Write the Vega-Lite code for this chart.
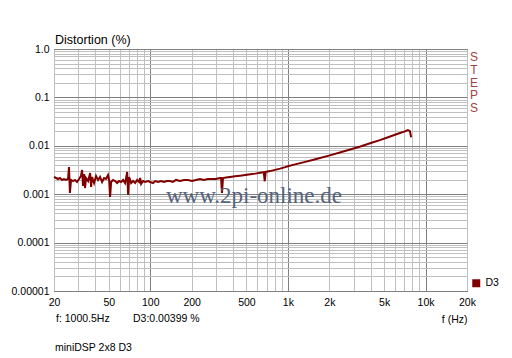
{
  "$schema": "https://vega.github.io/schema/vega-lite/v6.json",
  "width": 413,
  "height": 242,
  "autosize": {"type": "none"},
  "padding": {"left": 54, "top": 49, "right": 45, "bottom": 67},
  "background": "white",
  "config": {
    "font": "Liberation Sans",
    "view": {"stroke": "black", "strokeWidth": 1},
    "axis": {"ticks": false, "domain": false, "labelColor": "black", "labelFontSize": 10.5, "labelFont": "Liberation Sans", "labelOverlap": false, "labelFlush": false, "labelPadding": 5, "gridOpacity": 1, "gridWidth": 1}
  },
  "title": {"text": "Distortion (%)", "anchor": "start", "frame": "group", "fontSize": 12.5, "fontWeight": "normal", "color": "black", "font": "Liberation Sans", "offset": -2, "dx": 1},
  "datasets": {
    "d3": [
      {"f": 20, "v": 0.00227}, {"f": 20.7, "v": 0.00216}, {"f": 21.4, "v": 0.00206}, {"f": 22.1, "v": 0.00216}, {"f": 22.9, "v": 0.00197},
      {"f": 23.6, "v": 0.00206}, {"f": 24.4, "v": 0.00197}, {"f": 25.3, "v": 0.00206}, {"f": 25.7, "v": 0.00365}, {"f": 26.1, "v": 0.00106},
      {"f": 26.6, "v": 0.00197}, {"f": 27.5, "v": 0.00187}, {"f": 28.4, "v": 0.00197}, {"f": 29.4, "v": 0.00179}, {"f": 30.4, "v": 0.00206},
      {"f": 31.4, "v": 0.00238}, {"f": 32.0, "v": 0.00316}, {"f": 32.5, "v": 0.00148}, {"f": 33.1, "v": 0.00262}, {"f": 33.6, "v": 0.00134},
      {"f": 34.2, "v": 0.00216}, {"f": 35.4, "v": 0.00187}, {"f": 36.6, "v": 0.00274}, {"f": 37.2, "v": 0.00141}, {"f": 37.8, "v": 0.00227},
      {"f": 39.1, "v": 0.0017}, {"f": 40.4, "v": 0.00238}, {"f": 41.8, "v": 0.00197}, {"f": 43.2, "v": 0.00227}, {"f": 44.7, "v": 0.00179},
      {"f": 46.2, "v": 0.00216}, {"f": 47.8, "v": 0.00206}, {"f": 49.4, "v": 0.00249}, {"f": 50.3, "v": 0.00197}, {"f": 51.1, "v": 0.00088},
      {"f": 52.0, "v": 0.00179}, {"f": 53.7, "v": 0.00197}, {"f": 55.6, "v": 0.00187}, {"f": 57.5, "v": 0.0017}, {"f": 59.4, "v": 0.00187},
      {"f": 61.5, "v": 0.00179}, {"f": 63.5, "v": 0.00197}, {"f": 65.7, "v": 0.0017}, {"f": 66.8, "v": 0.00216}, {"f": 68.0, "v": 0.00288},
      {"f": 69.1, "v": 0.00096}, {"f": 70.3, "v": 0.00227}, {"f": 72.7, "v": 0.0017}, {"f": 75.1, "v": 0.00187}, {"f": 77.7, "v": 0.0017},
      {"f": 80.4, "v": 0.00197}, {"f": 83.1, "v": 0.00179}, {"f": 84.5, "v": 0.00216}, {"f": 85.9, "v": 0.00163}, {"f": 88.8, "v": 0.00187},
      {"f": 91.8, "v": 0.00179}, {"f": 96.6, "v": 0.00187}, {"f": 99.9, "v": 0.00179}, {"f": 105, "v": 0.0017}, {"f": 108.6, "v": 0.00187},
      {"f": 114, "v": 0.00179}, {"f": 120, "v": 0.00187}, {"f": 126, "v": 0.00179}, {"f": 132, "v": 0.00187}, {"f": 139, "v": 0.00187},
      {"f": 146, "v": 0.00179}, {"f": 154, "v": 0.00197}, {"f": 164.6, "v": 0.00187}, {"f": 176, "v": 0.00197}, {"f": 188, "v": 0.00197},
      {"f": 201, "v": 0.00187}, {"f": 215, "v": 0.00197}, {"f": 230, "v": 0.00206}, {"f": 245, "v": 0.00197}, {"f": 262, "v": 0.00206},
      {"f": 280, "v": 0.00206}, {"f": 300, "v": 0.00206}, {"f": 321, "v": 0.00216}, {"f": 327, "v": 0.00216}, {"f": 332, "v": 0.00106},
      {"f": 338, "v": 0.00216}, {"f": 356, "v": 0.00222}, {"f": 380, "v": 0.00227}, {"f": 413, "v": 0.00234}, {"f": 450, "v": 0.00241},
      {"f": 490, "v": 0.00249}, {"f": 534, "v": 0.00257}, {"f": 580, "v": 0.00266}, {"f": 630, "v": 0.00277}, {"f": 668, "v": 0.00285},
      {"f": 679, "v": 0.00185}, {"f": 690, "v": 0.00289}, {"f": 742, "v": 0.003}, {"f": 807, "v": 0.00318}, {"f": 878, "v": 0.00338},
      {"f": 956, "v": 0.00362}, {"f": 1000, "v": 0.00378}, {"f": 1110, "v": 0.00408}, {"f": 1315, "v": 0.0046}, {"f": 1560, "v": 0.00522},
      {"f": 2017, "v": 0.00635}, {"f": 2600, "v": 0.0078}, {"f": 3360, "v": 0.0097}, {"f": 4000, "v": 0.0114}, {"f": 4660, "v": 0.0131},
      {"f": 5400, "v": 0.0152}, {"f": 6000, "v": 0.0169}, {"f": 6600, "v": 0.0186}, {"f": 7080, "v": 0.0199}, {"f": 7440, "v": 0.0212},
      {"f": 7700, "v": 0.02}, {"f": 7860, "v": 0.015}
    ]
  },
  "layer": [
    {
      "data": {"name": "d3"},
      "mark": {"type": "line", "strokeWidth": 2, "interpolate": "linear"},
      "encoding": {
        "x": {
          "field": "f", "type": "quantitative",
          "scale": {"type": "log", "domain": [20, 20000], "nice": false},
          "axis": {
            "values": [20, 30, 40, 50, 60, 70, 80, 90, 100, 200, 300, 400, 500, 600, 700, 800, 900, 1000, 2000, 3000, 4000, 5000, 6000, 7000, 8000, 9000, 10000, 20000],
            "labelExpr": "indexof([20,50,100,200,500,1000,2000,5000,10000,20000], datum.value) >= 0 ? (datum.value >= 1000 ? (datum.value / 1000) + 'k' : '' + datum.value) : ''",
            "labelPadding": 6,
            "grid": true,
            "gridColor": {"condition": {"test": "indexof([100,1000,10000], datum.value) >= 0", "value": "#808080"}, "value": "#c0c0c0"},
            "title": "f (Hz)",
            "titleFontWeight": "normal",
            "titleFontSize": 10.5,
            "titleFont": "Liberation Sans",
            "titleColor": "black",
            "titleAnchor": "end",
            "titleAlign": "right",
            "titleBaseline": "middle",
            "titleX": 413,
            "titleY": 28
          }
        },
        "y": {
          "field": "v", "type": "quantitative",
          "scale": {"type": "log", "domain": [0.00001, 1], "nice": false},
          "axis": {
            "values": [0.00001, 0.00002, 0.00003, 0.00004, 0.00005, 0.00006, 0.00007, 0.00008, 0.00009, 0.0001, 0.0002, 0.0003, 0.0004, 0.0005, 0.0006, 0.0007, 0.0008, 0.0009, 0.001, 0.002, 0.003, 0.004, 0.005, 0.006, 0.007, 0.008, 0.009, 0.01, 0.02, 0.03, 0.04, 0.05, 0.06, 0.07, 0.08, 0.09, 0.1, 0.2, 0.3, 0.4, 0.5, 0.6, 0.7, 0.8, 0.9, 1],
            "labelExpr": "datum.value == 1 ? '1.0' : datum.value == 0.1 ? '0.1' : datum.value == 0.01 ? '0.01' : datum.value == 0.001 ? '0.001' : datum.value == 0.0001 ? '0.0001' : datum.value == 0.00001 ? '0.00001' : ''",
            "grid": true,
            "gridColor": {"condition": {"test": "abs(log(datum.value) / LN10 - round(log(datum.value) / LN10)) < 0.001", "value": "#808080"}, "value": "#c0c0c0"},
            "title": null
          }
        },
        "color": {
          "datum": "D3", "type": "nominal",
          "scale": {"range": ["#800000"]},
          "legend": {
            "title": null, "orient": "none", "legendX": 417, "legendY": 229,
            "symbolType": "square", "symbolSize": 64, "symbolFillColor": "#800000", "symbolStrokeWidth": 0,
            "labelFontSize": 10.5, "labelFont": "Liberation Sans", "labelColor": "black", "labelOffset": 4, "padding": 0
          }
        }
      }
    },
    {
      "mark": {"type": "rule", "color": "#c8c800", "strokeWidth": 1},
      "encoding": {"x": {"datum": 1000.5, "type": "quantitative"}}
    },
    {
      "data": {"values": [{}]},
      "mark": {"type": "text", "text": "www.2pi-online.de", "font": "Liberation Serif", "fontSize": 23, "color": "#56647a", "align": "center", "baseline": "alphabetic"},
      "encoding": {"x": {"datum": 567, "type": "quantitative"}, "y": {"datum": 0.00066, "type": "quantitative"}}
    },
    {
      "data": {"values": [{}]},
      "mark": {"type": "text", "text": ["S", "T", "E", "P", "S"], "fontSize": 12, "lineHeight": 12.8, "color": "#a04444", "align": "center", "baseline": "top", "dx": 7, "dy": 3},
      "encoding": {"x": {"datum": 20000, "type": "quantitative"}, "y": {"datum": 1, "type": "quantitative"}}
    },
    {
      "data": {"values": [{}]},
      "mark": {"type": "text", "text": "f: 1000.5Hz", "fontSize": 10.5, "color": "black", "align": "left", "baseline": "middle", "dx": 2, "dy": 28},
      "encoding": {"x": {"datum": 20, "type": "quantitative"}, "y": {"datum": 0.00001, "type": "quantitative"}}
    },
    {
      "data": {"values": [{}]},
      "mark": {"type": "text", "text": "D3:0.00399 %", "fontSize": 10.5, "color": "black", "align": "left", "baseline": "middle", "dy": 28},
      "encoding": {"x": {"datum": 75, "type": "quantitative"}, "y": {"datum": 0.00001, "type": "quantitative"}}
    },
    {
      "data": {"values": [{}]},
      "mark": {"type": "text", "text": "miniDSP 2x8 D3", "fontSize": 10.5, "color": "black", "align": "left", "baseline": "middle", "dx": 1, "dy": 57},
      "encoding": {"x": {"datum": 20, "type": "quantitative"}, "y": {"datum": 0.00001, "type": "quantitative"}}
    }
  ]
}
